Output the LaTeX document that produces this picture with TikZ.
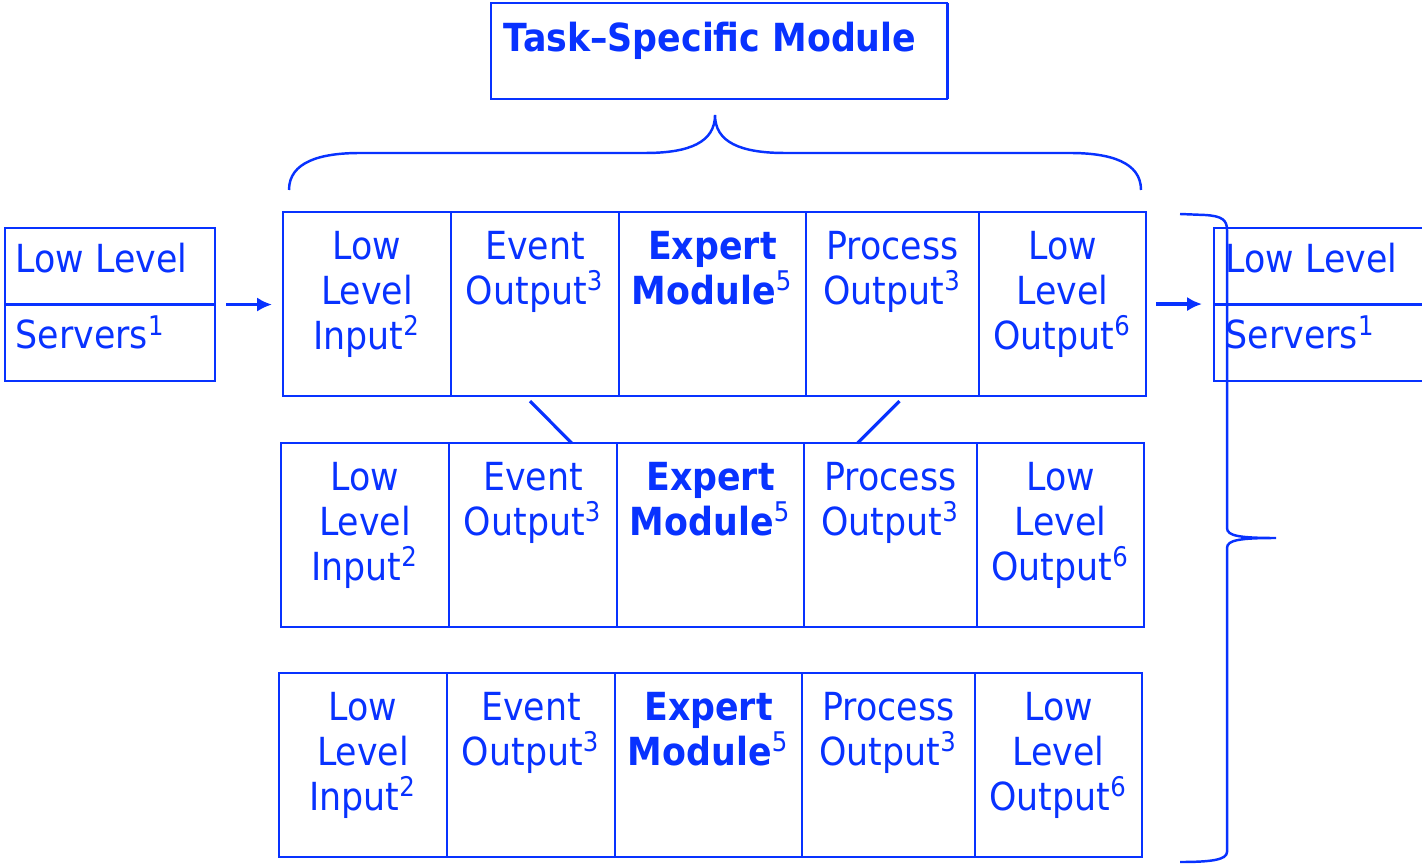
\documentclass[tikz,border=0pt]{standalone}
\usepackage{fontspec}
\setmainfont{DejaVu Sans}[FakeStretch=0.9]
\usetikzlibrary{positioning,calc,arrows.meta}
\definecolor{modblue}{RGB}{8,50,255}

\tikzset{
  box/.style={draw=modblue, line width=0.6pt, inner sep=0pt, outer sep=0pt, anchor=north west},
  celltext/.style={text=modblue, align=center, inner sep=0pt, anchor=north, font=\fontsize{11}{12.8}\selectfont},
  plaintext/.style={text=modblue, inner sep=0pt, anchor=base west, font=\fontsize{11}{12.8}\selectfont},
  brace/.style={draw=modblue, line width=0.7pt},
  link/.style={draw=modblue, line width=0.9pt},
}

\begin{document}
\begin{tikzpicture}[x=0.01cm, y=-0.01cm, >={Latex[length=4.2pt,width=4pt]}]
\useasboundingbox (0,0) rectangle (1422,864);
\clip (0,0) rectangle (1422,864);

% task module on top
\node[box, minimum width=4.56cm, minimum height=0.96cm] (task) at (491,3) {};
\draw[modblue, line width=1pt] (task.north east) -- (task.south east);
\node[plaintext, font=\fontsize{11}{12.8}\selectfont\bfseries] (tasktitle) at ($(task.north west)+(12,49)$) {Task--Specific Module};

% three rows of modules
\foreach \r/\rx/\ry in {1/283/212, 2/281/443, 3/279/673} {
  \foreach \c/\off/\w/\txt in {a/0/168/{Low\\Level\\Input\textsuperscript{2}},
                              b/168/168/{Event\\Output\textsuperscript{3}},
                              c/336/187/{\textbf{Expert}\\\textbf{Module}\textsuperscript{5}},
                              d/523/173/{Process\\Output\textsuperscript{3}},
                              e/696/167/{Low\\Level\\Output\textsuperscript{6}}} {
    \node[box, minimum width=\w*0.01cm, minimum height=1.84cm] (r\r\c) at (\rx+\off,\ry) {};
    \node[celltext] (r\r\c-t) at ($(r\r\c.north)+(0,19)$) {\txt};
  }
}

% low level servers, in and out
\node[box, minimum width=2.10cm, minimum height=1.53cm] (srvin) at (5,228) {};
\draw[modblue, line width=0.6pt] (srvin.west) -- (srvin.east);
\node[plaintext] (srvin-top) at ($(srvin.north west)+(10,45)$) {Low Level};
\node[plaintext] (srvin-bot) at ($(srvin.north west)+(10,121)$) {Servers\textsuperscript{1}};

\node[box, minimum width=2.30cm, minimum height=1.53cm] (srvout) at (1214,228) {};
\draw[modblue, line width=0.6pt] (srvout.west) -- (srvout.east);
\node[plaintext] (srvout-top) at ($(srvout.north west)+(11,45)$) {Low Level};
\node[plaintext] (srvout-bot) at ($(srvout.north west)+(11,121)$) {Servers\textsuperscript{1}};

% arrows into and out of the first row
\draw[->, link, shorten <=0.11cm, shorten >=0.11cm] (srvin.east) -- (srvin.east -| r1a.west);
\draw[->, link, shorten <=0.10cm, shorten >=0.12cm] (r1e.east) -- (r1e.east -| srvout.west);

% links from the first row down to the second
\draw[link] ($(r1b.south west)!0.47!(r1b.south east)+(0,5)$) -- ($(r2b.north west)!0.73!(r2b.north east)$);
\draw[link] ($(r1d.south west)!0.54!(r1d.south east)+(0,5)$) -- ($(r2d.north west)!0.31!(r2d.north east)$);

% brace under the task module
\draw[brace] (289,190) .. controls (289,162) and (320,153) .. (360,153) -- (645,153)
  .. controls (690,153) and (715,142) .. (715,115)
  .. controls (715,142) and (740,153) .. (785,153) -- (1070,153)
  .. controls (1110,153) and (1141,162) .. (1141,190);

% brace beside the rows
\draw[brace] (1180,214) -- (1205,215) .. controls (1222,216) and (1227,220) .. (1227,230) -- (1227,528)
  .. controls (1227,536) and (1240,538) .. (1276,538)
  .. controls (1240,538) and (1227,540) .. (1227,548) -- (1227,852)
  .. controls (1227,860) and (1210,862) .. (1180,862);
\end{tikzpicture}
\end{document}
